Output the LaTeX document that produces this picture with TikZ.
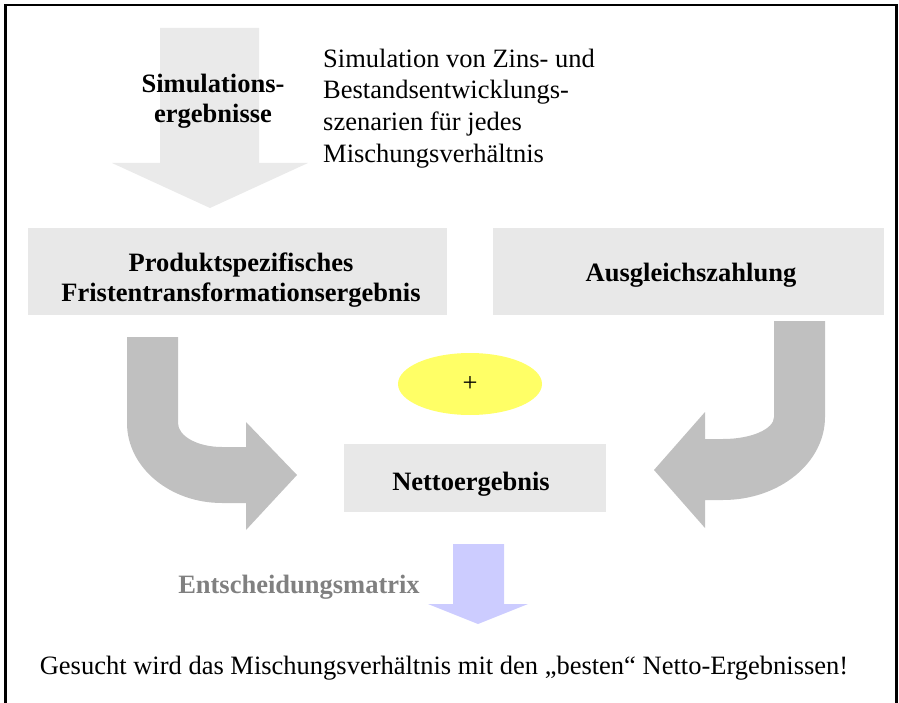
\documentclass[tikz,border=0pt]{standalone}
\usepackage{fontspec}
\setmainfont{Liberation Serif}
\usetikzlibrary{shapes.geometric}
\definecolor{boxgray}{HTML}{E8E8E8}
\definecolor{arrgray}{HTML}{C0C0C0}
\definecolor{toparr}{HTML}{EAEAEA}
\definecolor{ellyellow}{HTML}{FFFF66}
\definecolor{lav}{HTML}{CCCCFF}
\definecolor{txtgray}{HTML}{808080}
\begin{document}
\begin{tikzpicture}[x=1pt,y=-1pt,
  box/.style={fill=boxgray, draw=none, inner sep=0pt},
  bt/.style={font=\fontsize{26.5}{30}\selectfont\bfseries, align=center, inner sep=0pt},
  rt/.style={font=\fontsize{26.5}{31.7}\selectfont, inner sep=0pt}]
\useasboundingbox (0,0) rectangle (899,703);
% frame (no bottom line)
\draw[line width=2.8pt] (5.5,703) -- (5.5,5) -- (896.5,5) -- (896.5,703);
% top arrow
\fill[toparr] (160,28) -- (259,28) -- (259,163) -- (308,163) -- (210,208) -- (112,163) -- (160,163) -- cycle;
\node[bt] (sim) at (213,101) {Simulations-\\ergebnisse};
\node[rt, anchor=west, align=left] (simtext) at (323,108.5) {Simulation von Zins- und\\Bestandsentwicklungs-\\szenarien f\"ur jedes\\Mischungsverh\"altnis};
% boxes
\node[box, minimum width=419pt, minimum height=87pt] (prod) at (237.5,271.5) {};
\node[bt] (prodtext) at (241,280) {Produktspezifisches\\Fristentransformationsergebnis};
\node[box, minimum width=391pt, minimum height=87pt] (ausg) at (688.5,271.5) {};
\node[bt] (ausgtext) at (691,275) {Ausgleichszahlung};
% curved arrows
\fill[arrgray] (127,337) -- (178,337) -- (178,423)
  .. controls (178,436.2) and (197.7,447) .. (222,447)
  -- (246,447) -- (246,422) -- (297,475) -- (246,530) -- (246,503) -- (222,503)
  .. controls (169.6,503) and (127,467.2) .. (127,423) -- cycle;
\fill[arrgray] (825,321) -- (774,321) -- (774,417)
  .. controls (774,429.1) and (751.2,439) .. (723,439)
  -- (705,439) -- (705,412) -- (654,470) -- (705,528) -- (705,500) -- (723,500)
  .. controls (779.3,500) and (825,462.8) .. (825,417) -- cycle;
% plus ellipse
\node[ellipse, fill=ellyellow, minimum width=144pt, minimum height=62pt, inner sep=0pt,
  font=\fontsize{26.5}{30}\selectfont] (plus) at (470,384) {+};
% net result
\node[box, minimum width=262pt, minimum height=68pt] (netto) at (475,478) {};
\node[bt] (nettotext) at (471,484) {Nettoergebnis};
% bottom arrow
\fill[lav] (453,544) -- (504,544) -- (504,604) -- (528,604) -- (478,624) -- (428,604) -- (453,604) -- cycle;
\node[bt, text=txtgray] (matrix) at (299,587) {Entscheidungsmatrix};
\node[rt] (result) at (444,668) {Gesucht wird das Mischungsverh\"altnis mit den „besten“ Netto-Ergebnissen!};
\end{tikzpicture}
\end{document}
